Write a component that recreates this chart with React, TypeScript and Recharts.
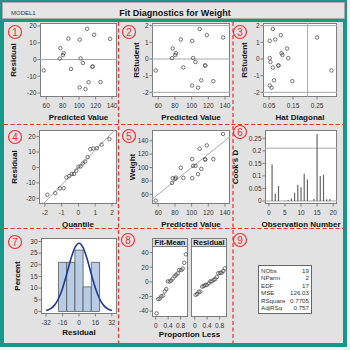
import React from 'react'
import {
  ComposedChart,
  Line,
  ReferenceArea,
  ReferenceLine,
  Scatter,
  ScatterChart,
  XAxis,
  YAxis,
} from 'recharts'

// observations 1..19 in data order
const obsNumber = [1, 2, 3, 4, 5, 6, 7, 8, 9, 10, 11, 12, 13, 14, 15, 16, 17, 18, 19]
const predicted = [126.0, 77.27, 111.58, 101.84, 104.57, 80.39, 90.13, 100.67, 100.67, 87.01, 56.99, 107.69, 76.49, 116.26, 137.7, 109.63, 118.21, 81.17, 116.26]
const residual = [-13.5, 6.73, -13.58, 0.66, -2.07, 2.61, -5.63, 11.83, -16.67, 12.49, -6.49, -17.69, 0.51, -4.26, 12.3, 18.37, 14.79, 3.83, -4.26]
const weight = [112.5, 84.0, 98.0, 102.5, 102.5, 83.0, 84.5, 112.5, 84.0, 99.5, 50.5, 90.0, 77.0, 112.0, 150.0, 128.0, 133.0, 85.0, 112.0]
const rStudent = [-1.33, 0.63, -1.28, 0.06, -0.18, 0.24, -0.51, 1.09, -1.59, 1.17, -0.69, -1.72, 0.05, -0.39, 1.29, 1.8, 1.43, 0.35, -0.39]
const hatDiagonal = [0.147, 0.125, 0.071, 0.053, 0.056, 0.106, 0.066, 0.053, 0.053, 0.076, 0.31, 0.061, 0.13, 0.089, 0.25, 0.066, 0.099, 0.102, 0.089]
const cooksD = [0.145, 0.029, 0.06, 0.0, 0.001, 0.004, 0.01, 0.033, 0.065, 0.055, 0.109, 0.086, 0.0, 0.008, 0.267, 0.1, 0.105, 0.007, 0.008]

// sorted values for the Q-Q and spread plots
const normalQuantile = [-1.85, -1.38, -1.1, -0.88, -0.71, -0.55, -0.4, -0.26, -0.13, 0, 0.13, 0.26, 0.4, 0.55, 0.71, 0.88, 1.1, 1.38, 1.85]
const sortedResidual = [-17.69, -16.67, -13.58, -13.5, -6.49, -5.63, -4.26, -4.26, -2.07, 0.51, 0.66, 2.61, 3.83, 6.73, 11.83, 12.3, 12.49, 14.79, 18.37]
const sortedFitMinusMean = [-43.04, -23.54, -22.76, -19.64, -18.86, -13.02, -9.9, 0.64, 0.64, 1.81, 4.54, 7.66, 9.6, 11.55, 16.23, 16.23, 18.18, 25.97, 37.67]
const proportionLess = [0.03, 0.08, 0.13, 0.18, 0.24, 0.29, 0.34, 0.39, 0.45, 0.5, 0.55, 0.61, 0.66, 0.71, 0.76, 0.82, 0.87, 0.92, 0.97]

// residual histogram
const binLow = [-20, -12, -4, 4, 12]
const binHigh = [-12, -4, 4, 12, 20]
const binPercent = [21.05, 21.05, 26.32, 10.53, 21.05]
const curveX = [-32, -28, -24, -20, -16, -12, -8, -4, 0, 4, 8, 12, 16, 20, 24, 28, 32]
const curvePercent = [0.4, 1.09, 2.6, 5.45, 9.98, 15.97, 22.36, 27.35, 29.25, 27.35, 22.36, 15.97, 9.98, 5.45, 2.6, 1.09, 0.4]

const statLabels = ['NObs', 'NParm', 'EDF', 'MSE', 'RSquare', 'AdjRSq']
const statValues = ['19', '2', '17', '126.03', '0.7705', '0.757']

const rmse = 11.23
const cooksCutoff = 0.2105
const leverageCutoff = 0.2105

const predTicks = [60, 80, 100, 120, 140]
const predDomain = [52.5, 146]

const FONT = '"Liberation Sans", Arial, sans-serif'
const TEAL = '#16978a'
const RED = '#ee2b2b'
const FRAME = '#7d7d7d'
const REF = '#a8a8a8'
const INK = '#333333'

type Rect = { x0: number; y0: number; x1: number; y1: number }
const YW = 40
const XH = 30
const PAD = 5

const p1: Rect = { x0: 40, y0: 23, x1: 117, y1: 97 }
const p2: Rect = { x0: 152, y0: 23, x1: 230, y1: 97 }
const p3: Rect = { x0: 263, y0: 23, x1: 337, y1: 97 }
const p4: Rect = { x0: 39, y0: 130, x1: 117, y1: 204 }
const p5: Rect = { x0: 152, y0: 130, x1: 230, y1: 204 }
const p6: Rect = { x0: 265, y0: 130, x1: 337, y1: 204 }
const p7: Rect = { x0: 41, y0: 238, x1: 117, y1: 314 }
const p8a: Rect = { x0: 152, y0: 246, x1: 188, y1: 317 }
const p8b: Rect = { x0: 191, y0: 246, x1: 227, y1: 317 }

const chartPos = (r: Rect, withY = true): React.CSSProperties => ({
  position: 'absolute',
  left: r.x0 - (withY ? YW : 0),
  top: r.y0 - PAD,
})
const chartW = (r: Rect, withY = true) => r.x1 - r.x0 + (withY ? YW : 0) + PAD
const chartH = (r: Rect) => r.y1 - r.y0 + PAD + XH
const margin = { top: PAD, right: PAD, bottom: 0, left: 0 }

const tickStyle = { fontSize: 6.5, fill: INK, fontFamily: FONT }
const xProps = {
  type: 'number' as const,
  dataKey: 'x',
  tick: tickStyle,
  tickSize: 2.5,
  tickMargin: 3.5,
  axisLine: false,
  tickLine: { stroke: FRAME },
  allowDataOverflow: true,
  height: XH,
  interval: 0 as const,
}
const yProps = {
  type: 'number' as const,
  dataKey: 'y',
  tick: tickStyle,
  tickSize: 2.5,
  tickMargin: 1,
  axisLine: false,
  tickLine: { stroke: FRAME },
  allowDataOverflow: true,
  width: YW,
  interval: 0 as const,
}

const Ring = (p: { cx?: number; cy?: number }) => (
  <circle cx={p.cx ?? 0} cy={p.cy ?? 0} r={1.75} fill="none" stroke="#474747" strokeWidth={0.75} />
)
const NoMark = () => <g />

function Frame({ r }: { r: Rect }) {
  return (
    <div
      style={{
        position: 'absolute',
        left: r.x0,
        top: r.y0,
        width: r.x1 - r.x0,
        height: r.y1 - r.y0,
        background: '#fff',
        border: `1px solid ${FRAME}`,
        boxSizing: 'border-box',
      }}
    />
  )
}

function XTitle({ cx, cy, text }: { cx: number; cy: number; text: string }) {
  return (
    <div
      style={{
        position: 'absolute',
        left: cx - 60,
        top: cy - 5,
        width: 120,
        height: 10,
        lineHeight: '10px',
        textAlign: 'center',
        fontSize: 8,
        fontWeight: 'bold',
        color: '#111',
        fontFamily: FONT,
      }}
    >
      {text}
    </div>
  )
}

function YTitle({ cx, cy, text }: { cx: number; cy: number; text: string }) {
  return (
    <div
      style={{
        position: 'absolute',
        left: cx - 40,
        top: cy - 5,
        width: 80,
        height: 10,
        lineHeight: '10px',
        textAlign: 'center',
        fontSize: 8,
        fontWeight: 'bold',
        color: '#111',
        fontFamily: FONT,
        transform: 'rotate(-90deg)',
      }}
    >
      {text}
    </div>
  )
}

const badges = [
  { n: '1', x: 15, y: 32 },
  { n: '2', x: 129, y: 32 },
  { n: '3', x: 240, y: 32 },
  { n: '4', x: 15, y: 137 },
  { n: '5', x: 129, y: 136 },
  { n: '6', x: 240, y: 132 },
  { n: '7', x: 15, y: 242 },
  { n: '8', x: 128, y: 240 },
  { n: '9', x: 240, y: 240 },
]

export default function App() {
  const residByPred = predicted.map((p, i) => ({ x: p, y: residual[i] }))
  const rstudByPred = predicted.map((p, i) => ({ x: p, y: rStudent[i] }))
  const rstudByHat = hatDiagonal.map((h, i) => ({ x: h, y: rStudent[i] }))
  const qq = normalQuantile.map((q, i) => ({ x: q, y: sortedResidual[i] }))
  const weightByPred = predicted.map((p, i) => ({ x: p, y: weight[i] }))
  const cooks = obsNumber.map((o, i) => ({ x: o, y: cooksD[i] }))
  const curve = curveX.map((x, i) => ({ x, y: curvePercent[i] }))
  const fitSpread = proportionLess.map((p, i) => ({ x: p, y: sortedFitMinusMean[i] }))
  const residSpread = proportionLess.map((p, i) => ({ x: p, y: sortedResidual[i] }))

  const qqX = [-2.35, 2.3]
  const qqY = [-23.7, 24.3]
  const spreadX = [-0.12, 1.04]
  const spreadY = [-48, 49]

  return (
    <div style={{ position: 'absolute', left: 0, top: 0, width: 350, height: 350, background: '#f2f2f2', fontFamily: FONT }}>
      <div style={{ position: 'absolute', left: 0, top: 0, width: 347, height: 347, background: TEAL }} />
      <div
        style={{
          position: 'absolute',
          left: 2,
          top: 2,
          width: 343,
          height: 17,
          background: '#e5e5e5',
          border: '1px solid #a9a9a9',
          boxSizing: 'border-box',
        }}
      />
      <div style={{ position: 'absolute', left: 11, top: 9, fontSize: 6, lineHeight: '9px', color: INK }}>MODEL1</div>
      <div
        style={{
          position: 'absolute',
          left: 75,
          top: 8,
          width: 200,
          textAlign: 'center',
          fontSize: 9,
          lineHeight: '11px',
          fontWeight: 'bold',
          color: '#111',
        }}
      >
        Fit Diagnostics for Weight
      </div>
      <div style={{ position: 'absolute', left: 4, top: 22, width: 339, height: 321, background: '#e2e2e2' }} />

      {/* 1: residual by predicted */}
      <Frame r={p1} />
      <div style={chartPos(p1)}>
        <ScatterChart width={chartW(p1)} height={chartH(p1)} margin={margin}>
          <XAxis {...xProps} domain={predDomain} ticks={predTicks} />
          <YAxis {...yProps} domain={[-22.4, 21.8]} ticks={[-20, -10, 0, 10, 20]} />
          <ReferenceLine y={0} stroke={REF} />
          <Scatter data={residByPred} shape={Ring} isAnimationActive={false} />
        </ScatterChart>
      </div>
      <YTitle cx={14} cy={60} text="Residual" />
      <XTitle cx={78.5} cy={118} text="Predicted Value" />

      {/* 2: rstudent by predicted */}
      <Frame r={p2} />
      <div style={chartPos(p2)}>
        <ScatterChart width={chartW(p2)} height={chartH(p2)} margin={margin}>
          <XAxis {...xProps} domain={predDomain} ticks={predTicks} />
          <YAxis {...yProps} domain={[-2.28, 2.16]} ticks={[-2, -1, 0, 1, 2]} />
          <ReferenceLine y={0} stroke={REF} />
          <ReferenceLine y={2} stroke={REF} />
          <ReferenceLine y={-2} stroke={REF} />
          <Scatter data={rstudByPred} shape={Ring} isAnimationActive={false} />
        </ScatterChart>
      </div>
      <YTitle cx={137} cy={60} text="RStudent" />
      <XTitle cx={191} cy={118} text="Predicted Value" />

      {/* 3: rstudent by leverage */}
      <Frame r={p3} />
      <div style={chartPos(p3)}>
        <ScatterChart width={chartW(p3)} height={chartH(p3)} margin={margin}>
          <XAxis {...xProps} domain={[0.025, 0.333]} ticks={[0.05, 0.15, 0.25]} />
          <YAxis {...yProps} domain={[-2.28, 2.16]} ticks={[-2, -1, 0, 1, 2]} />
          <ReferenceLine y={2} stroke={REF} />
          <ReferenceLine y={-2} stroke={REF} />
          <ReferenceLine x={leverageCutoff} stroke={REF} />
          <Scatter data={rstudByHat} shape={Ring} isAnimationActive={false} />
        </ScatterChart>
      </div>
      <YTitle cx={245} cy={60} text="RStudent" />
      <XTitle cx={300} cy={118} text="Hat Diagonal" />

      {/* 4: Q-Q plot */}
      <Frame r={p4} />
      <div style={chartPos(p4)}>
        <ScatterChart width={chartW(p4)} height={chartH(p4)} margin={margin}>
          <XAxis {...xProps} domain={qqX} ticks={[-2, -1, 0, 1, 2]} />
          <YAxis {...yProps} domain={qqY} ticks={[-20, -10, 0, 10, 20]} />
          <ReferenceLine
            segment={[
              { x: qqY[0] / rmse, y: qqY[0] },
              { x: qqY[1] / rmse, y: qqY[1] },
            ]}
            stroke={REF}
          />
          <Scatter data={qq} shape={Ring} isAnimationActive={false} />
        </ScatterChart>
      </div>
      <YTitle cx={15} cy={167} text="Residual" />
      <XTitle cx={78} cy={224.5} text="Quantile" />

      {/* 5: observed by predicted */}
      <Frame r={p5} />
      <div style={chartPos(p5)}>
        <ScatterChart width={chartW(p5)} height={chartH(p5)} margin={margin}>
          <XAxis {...xProps} domain={predDomain} ticks={predTicks} />
          <YAxis {...yProps} domain={[45.5, 156]} ticks={[60, 80, 100, 120, 140]} />
          <ReferenceLine
            segment={[
              { x: predDomain[0], y: predDomain[0] },
              { x: predDomain[1], y: predDomain[1] },
            ]}
            stroke={REF}
          />
          <Scatter data={weightByPred} shape={Ring} isAnimationActive={false} />
        </ScatterChart>
      </div>
      <YTitle cx={133} cy={167} text="Weight" />
      <XTitle cx={191} cy={224.5} text="Predicted Value" />

      {/* 6: Cook's D */}
      <Frame r={p6} />
      <div style={chartPos(p6)}>
        <ComposedChart width={chartW(p6)} height={chartH(p6)} margin={margin} data={cooks}>
          <XAxis {...xProps} domain={[-1.2, 21.2]} ticks={[0, 5, 10, 15, 20]} />
          <YAxis {...yProps} domain={[-0.012, 0.283]} ticks={[0, 0.05, 0.1, 0.15, 0.2, 0.25]} />
          <ReferenceLine y={0} stroke={REF} />
          <ReferenceLine y={cooksCutoff} stroke={REF} />
          {cooks.map((c) => (
            <ReferenceLine
              key={c.x}
              segment={[
                { x: c.x, y: 0 },
                { x: c.x, y: c.y },
              ]}
              stroke="#666"
              strokeWidth={1.2}
            />
          ))}
          <Scatter dataKey="y" shape={NoMark} isAnimationActive={false} />
        </ComposedChart>
      </div>
      <YTitle cx={236} cy={167} text="Cook's D" />
      <XTitle cx={301} cy={224.5} text="Observation Number" />

      {/* 7: residual histogram */}
      <Frame r={p7} />
      <div style={chartPos(p7)}>
        <ComposedChart width={chartW(p7)} height={chartH(p7)} margin={margin} data={curve}>
          <XAxis {...xProps} domain={[-37, 37]} ticks={[-32, -16, 0, 16, 32]} />
          <YAxis {...yProps} domain={[-1.1, 31.5]} ticks={[0, 5, 10, 15, 20, 25, 30]} />
          {binLow.map((lo, i) => (
            <ReferenceArea
              key={lo}
              x1={lo}
              x2={binHigh[i]}
              y1={0}
              y2={binPercent[i]}
              fill="#b8cce6"
              fillOpacity={1}
              stroke="#555"
              strokeWidth={0.8}
            />
          ))}
          <Line dataKey="y" type="monotone" stroke="#1f3a8f" strokeWidth={1.6} dot={false} isAnimationActive={false} />
        </ComposedChart>
      </div>
      <YTitle cx={17.5} cy={276} text="Percent" />
      <XTitle cx={79} cy={333} text="Residual" />

      {/* 8: residual-fit spread */}
      {[
        { r: p8a, label: 'Fit-Mean' },
        { r: p8b, label: 'Residual' },
      ].map(({ r, label }) => (
        <div
          key={label}
          style={{
            position: 'absolute',
            left: r.x0,
            top: 238,
            width: r.x1 - r.x0,
            height: 9,
            background: '#dcdcdc',
            border: `1px solid ${FRAME}`,
            boxSizing: 'border-box',
            fontSize: 7.5,
            fontWeight: 'bold',
            lineHeight: '8px',
            textAlign: 'center',
            color: '#111',
            whiteSpace: 'nowrap',
          }}
        >
          {label}
        </div>
      ))}
      <Frame r={p8a} />
      <Frame r={p8b} />
      <div style={chartPos(p8a)}>
        <ScatterChart width={chartW(p8a)} height={chartH(p8a)} margin={margin}>
          <XAxis {...xProps} domain={spreadX} ticks={[0, 0.4, 0.8]} />
          <YAxis {...yProps} domain={spreadY} ticks={[-40, -20, 0, 20, 40]} />
          <Scatter data={fitSpread} shape={Ring} isAnimationActive={false} />
        </ScatterChart>
      </div>
      <div style={chartPos(p8b, false)}>
        <ScatterChart width={chartW(p8b, false)} height={chartH(p8b)} margin={margin}>
          <XAxis {...xProps} domain={spreadX} ticks={[0, 0.4, 0.8]} />
          <YAxis {...yProps} domain={spreadY} hide />
          <Scatter data={residSpread} shape={Ring} isAnimationActive={false} />
        </ScatterChart>
      </div>
      <XTitle cx={189.5} cy={335} text="Proportion Less" />

      {/* 9: fit statistics */}
      <div
        style={{
          position: 'absolute',
          left: 258,
          top: 265,
          width: 54,
          height: 49,
          background: '#fff',
          border: '1px solid #666',
          boxSizing: 'border-box',
          padding: '0.5px 2px',
          overflow: 'hidden',
        }}
      >
        {statLabels.map((s, i) => (
          <div
            key={s}
            style={{ display: 'flex', justifyContent: 'space-between', fontSize: 6.2, lineHeight: '7.6px', height: 7.6, color: INK }}
          >
            <span>{s}</span>
            <span>{statValues[i]}</span>
          </div>
        ))}
      </div>

      <svg width={350} height={350} style={{ position: 'absolute', left: 0, top: 0, pointerEvents: 'none' }}>
        <g stroke={RED} strokeWidth={1.2} strokeDasharray="4 2.5">
          <line x1={118.5} y1={22} x2={118.5} y2={343} />
          <line x1={233} y1={22} x2={233} y2={343} />
          <line x1={4} y1={124.5} x2={343} y2={124.5} />
          <line x1={4} y1={228.5} x2={343} y2={228.5} />
        </g>
        {badges.map((b) => (
          <g key={b.n}>
            <circle cx={b.x} cy={b.y} r={6.5} fill="none" stroke={RED} strokeWidth={1.1} />
            <text x={b.x} y={b.y + 3.6} textAnchor="middle" fontSize={10} fill={RED} fontFamily={FONT}>
              {b.n}
            </text>
          </g>
        ))}
      </svg>
    </div>
  )
}
